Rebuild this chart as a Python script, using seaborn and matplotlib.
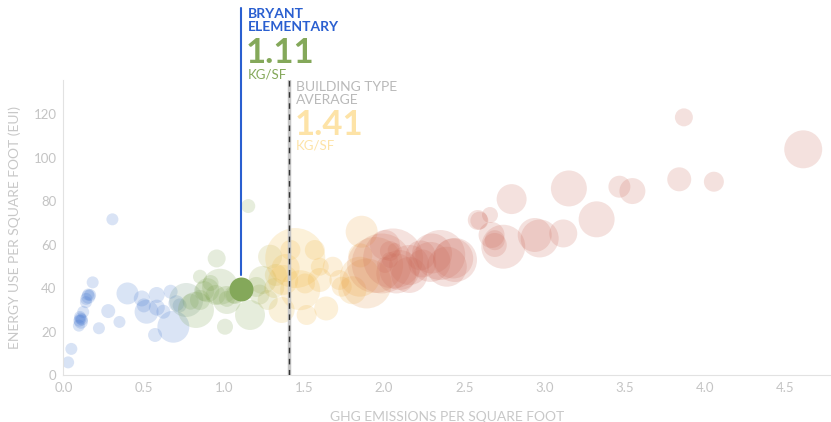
import matplotlib
matplotlib.use('Agg')
import matplotlib.pyplot as plt
from matplotlib.colors import LinearSegmentedColormap
import pandas as pd
import seaborn as sns

# buildings: ghg per sf, eui, floor area (thousand sf)
ghg = [0.03, 0.05, 0.097, 0.104, 0.11, 0.116, 0.124, 0.141, 0.156, 0.167, 0.183, 0.222, 0.28, 0.306,
       0.10, 0.107, 0.143, 0.155,
       0.35, 0.40, 0.489, 0.502, 0.519, 0.582, 0.572, 0.583, 0.624, 0.669, 0.686, 0.705, 0.725,
       0.766, 0.794, 0.827, 0.852, 0.852, 0.878, 0.898, 0.918, 0.949, 0.956, 0.977, 1.008, 1.02, 1.02,
       1.06, 1.07, 1.153, 1.164, 1.203, 1.223, 1.243, 1.274, 1.315,
       1.289, 1.325, 1.361, 1.371, 1.386, 1.416, 1.446, 1.477, 1.507, 1.517, 1.568, 1.599, 1.599,
       1.639, 1.68, 1.721, 1.736, 1.802, 1.849, 1.852, 1.86, 1.891,
       1.944, 1.985, 2.005, 2.005, 2.036, 2.036, 2.056, 2.066, 2.076, 2.096, 2.157, 2.157, 2.228,
       2.238, 2.289, 2.299, 2.35, 2.391, 2.431, 2.442, 2.584, 2.594, 2.66, 2.67, 2.69, 2.69, 2.743,
       2.795, 2.939, 2.97, 3.117, 3.152, 3.325, 3.467, 3.548, 3.84, 3.869, 4.056, 4.613]
eui = [5.8, 12, 22.7, 26.7, 24.5, 25.5, 29, 33.5, 36, 36.8, 42.6, 21.5, 29.4, 71.6,
       25, 26, 35, 37,
       24.4, 37.5, 35.2, 32, 29.1, 36.8, 18.4, 31, 29.1, 38.3, 22.2, 33, 32,
       34.5, 33.7, 29.9, 45.2, 34.5, 38.6, 39, 42.3, 36.8, 53.6, 40.6, 22.2, 34.5, 35,
       37, 36.8, 77.7, 27.6, 40.5, 37, 43.7, 34.5, 40,
       54.4, 46, 29.9, 43.7, 49.2, 57.5, 53.8, 39, 42.1, 27.6, 57.5, 49.8, 43.7,
       30.6, 49.8, 43.7, 40.6, 39, 45.2, 55, 65.9, 42.1,
       50.6, 51.3, 59.8, 50.6, 52.9, 57, 53.6, 57.5, 46.7, 48.3, 50.6, 46, 55,
       51.3, 52, 55.9, 55.2, 49.8, 53.6, 52.9, 71.3, 71, 73.6, 64.4, 62, 59.8, 59,
       80.9, 64.4, 62.8, 65.1, 85.8, 71.6, 86.6, 84.6, 90, 118.5, 88.9, 103.8]
area = [36, 36, 36, 36, 49, 36, 36, 36, 49, 36, 36, 36, 49, 36,
        36, 36, 36, 36,
        36, 121, 64, 49, 144, 64, 49, 64, 49, 49, 256, 64, 49,
        289, 64, 324, 49, 100, 100, 144, 64, 100, 81, 324, 64, 196, 64,
        81, 81, 49, 225, 100, 100, 196, 100, 100,
        144, 121, 169, 225, 196, 100, 900, 400, 100, 100, 100, 81, 144,
        144, 100, 100, 100, 196, 400, 144, 256, 625,
        784, 900, 225, 64, 64, 100, 900, 49, 400, 400, 400, 324, 225,
        196, 400, 400, 625, 400, 400, 484, 100, 81, 64, 169, 100, 144, 484,
        225, 289, 361, 196, 324, 324, 121, 169, 144, 81, 100, 361]

bryant_ghg = 1.11
bryant_eui = 39.4
bryant_area = 144
type_avg_ghg = 1.41

df = pd.DataFrame({'ghg': ghg, 'eui': eui, 'area': area})

sns.set_style('white')
plt.rcParams['font.family'] = ['Lato', 'DejaVu Sans']

cmap = LinearSegmentedColormap.from_list('ghg', [
    (0.0, '#3f73cf'), (0.70 / 2.2, '#4a7cd0'), (0.8 / 2.2, '#79a04f'),
    (1.2 / 2.2, '#84a852'), (1.38 / 2.2, '#f2bb45'), (1.85 / 2.2, '#efae45'),
    (2.0 / 2.2, '#cf6f5c'), (1.0, '#cc6c5c')])

fig = plt.figure(figsize=(8.31, 4.22), dpi=100)
ax = fig.add_axes([0.0762, 0.1114, 0.9226, 0.6986])

k = 2.07  # px radius^2 -> points^2
sns.scatterplot(data=df, x='ghg', y='eui', hue='ghg', size='area', palette=cmap,
                hue_norm=(0, 2.2), sizes=(k * min(area), k * max(area)),
                size_norm=(min(area), max(area)), alpha=0.2, linewidth=0,
                legend=False, ax=ax)

# bryant point
sns.scatterplot(x=[bryant_ghg], y=[bryant_eui], s=k * bryant_area, color='#84a85a',
                linewidth=0, legend=False, ax=ax, zorder=5)

ax.set_xlim(0, 4.78)
ax.set_ylim(0, 135.6)
ax.set_xticks([0, 0.5, 1.0, 1.5, 2.0, 2.5, 3.0, 3.5, 4.0, 4.5])
ax.set_xticklabels(['0.0', '0.5', '1.0', '1.5', '2.0', '2.5', '3.0', '3.5', '4.0', '4.5'])
ax.set_yticks([0, 20, 40, 60, 80, 100, 120])
ax.tick_params(colors='#c4c4c4', labelsize=9.5, length=0, pad=5)
for s in ['top', 'right']:
    ax.spines[s].set_visible(False)
for s in ['left', 'bottom']:
    ax.spines[s].set_color('#e2e2e2')
ax.set_xlabel('GHG EMISSIONS PER SQUARE FOOT', color='#c8c8c8', fontsize=10, labelpad=12)
ax.set_ylabel('ENERGY USE PER SQUARE FOOT (EUI)', color='#c8c8c8', fontsize=10, labelpad=9)

# building type average line
ax.axvline(type_avg_ghg, color='#c6c6c6', lw=2.5, zorder=6)
ax.axvline(type_avg_ghg, color='#333333', lw=1, dashes=(4, 4), zorder=7)

# bryant line above its point
ax.plot([bryant_ghg, bryant_ghg], [46, 168.7], color='#2a5fd0', lw=1.5,
        clip_on=False, zorder=6)

tx = bryant_ghg + 0.04
ax.text(tx, 168.7, 'BRYANT\nELEMENTARY', color='#2a5fd0', fontsize=10, fontweight='bold',
        va='top', ha='left', linespacing=1.1, clip_on=False)
ax.text(tx - 0.01, 155.5, '1.11', color='#84a85a', fontsize=25, fontweight='bold',
        va='top', ha='left', clip_on=False)
ax.text(tx, 140.8, 'KG/SF', color='#84a85a', fontsize=9.5, va='top', ha='left', clip_on=False)

bx = type_avg_ghg + 0.04
ax.text(bx, 135.2, 'BUILDING TYPE\nAVERAGE', color='#b9b9b9', fontsize=10,
        va='top', ha='left', linespacing=1.1, clip_on=False)
ax.text(bx - 0.01, 122.3, '1.41', color='#fde3a7', fontsize=25, fontweight='bold',
        va='top', ha='left', clip_on=False)
ax.text(bx, 108.3, 'KG/SF', color='#fde3a7', fontsize=9.5, va='top', ha='left', clip_on=False)

fig.savefig('out.png', dpi=100)
